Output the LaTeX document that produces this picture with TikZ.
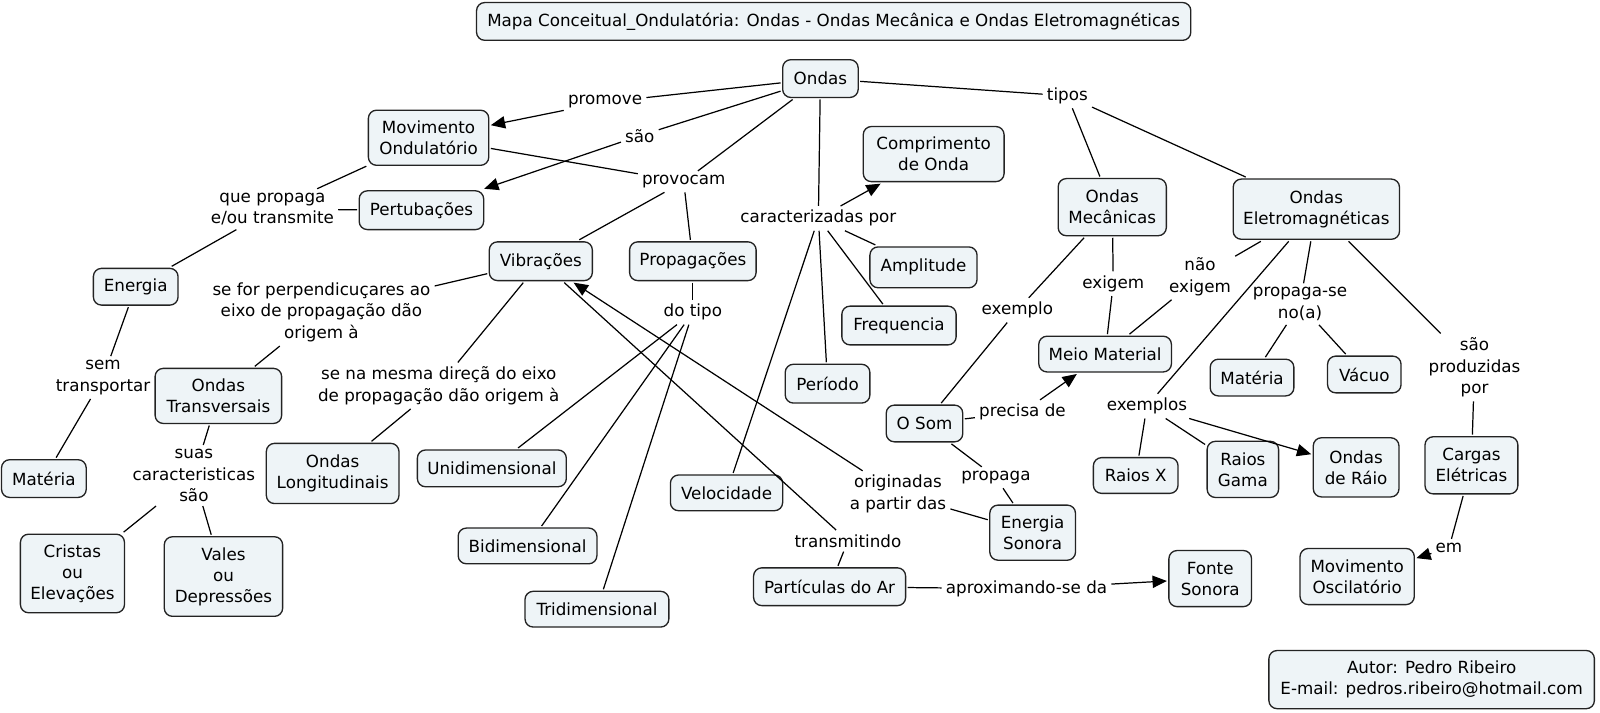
\documentclass[tikz,border=0pt]{standalone}
\usepackage{fontspec}
\setmainfont{DejaVu Sans}
\usetikzlibrary{arrows.meta}
\definecolor{boxfill}{RGB}{238,244,247}
\definecolor{boxdraw}{RGB}{35,35,35}
\newcommand{\cbox}[6]{\node[concept, minimum width=#4pt, minimum height=#5pt] (#1) at (#2,#3) {#6};}
\begin{document}
\begin{tikzpicture}[x=1pt,y=-1pt,
 concept/.style={draw=boxdraw, fill=boxfill, rounded corners=8pt, line width=1.3pt, align=center, inner sep=2pt, outer sep=2pt, font=\fontsize{16.4}{20.5}\selectfont},
 lbl/.style={align=center, inner sep=4pt, font=\fontsize{16.4}{21}\selectfont},
 ln/.style={line width=1.2pt, draw=black},
 arr/.style={ln, -{Triangle[length=14pt,width=12pt]}}]
\useasboundingbox (0,0) rectangle (1568,698);
% concepts
\cbox{title}{817}{21}{700}{37}{Mapa Conceitual\_Ondulatória: Ondas - Ondas Mecânica e Ondas Eletromagnéticas}
\cbox{ondas}{804}{77}{74}{37}{Ondas}
\cbox{movond}{420}{135}{118}{54}{Movimento\\Ondulatório}
\cbox{pert}{413}{206}{122}{38}{Pertubações}
\cbox{energia}{133}{281}{83}{36}{Energia}
\cbox{materia1}{43}{469}{83}{37}{Matéria}
\cbox{ondtrans}{214}{388}{124}{54}{Ondas\\Transversais}
\cbox{cristas}{71}{562}{102}{77}{Cristas\\ou\\Elevações}
\cbox{vales}{219}{565}{116}{78}{Vales\\ou\\Depressões}
\cbox{vibr}{530}{256}{101}{38}{Vibrações}
\cbox{propag}{679}{256}{124}{38}{Propagações}
\cbox{ondlong}{326}{464}{130}{59}{Ondas\\Longitudinais}
\cbox{unidim}{482}{459}{146}{36}{Unidimensional}
\cbox{bidim}{517}{535}{136}{35}{Bidimensional}
\cbox{tridim}{585}{597}{141}{35}{Tridimensional}
\cbox{compr}{915}{151}{138}{54}{Comprimento\\de Onda}
\cbox{ampl}{905}{262}{105}{40}{Amplitude}
\cbox{freq}{881}{319}{112}{38}{Frequencia}
\cbox{periodo}{811}{376}{83}{38}{Período}
\cbox{veloc}{712}{483}{110}{35}{Velocidade}
\cbox{partic}{813}{575}{149}{37}{Partículas do Ar}
\cbox{fonte}{1186}{567}{81}{55}{Fonte\\Sonora}
\cbox{osom}{906}{415}{75}{36}{O Som}
\cbox{enson}{1012}{522}{84}{54}{Energia\\Sonora}
\cbox{meio}{1083}{347}{130}{35}{Meio Material}
\cbox{ondmec}{1090}{203}{106}{56}{Ondas\\Mecânicas}
\cbox{ondelet}{1290}{205}{163}{59}{Ondas\\Eletromagnéticas}
\cbox{materia2}{1227}{370}{82}{36}{Matéria}
\cbox{vacuo}{1337}{367}{72}{36}{Vácuo}
\cbox{raiosx}{1113}{466}{83}{35}{Raios X}
\cbox{raiosg}{1218}{460}{70}{55}{Raios\\Gama}
\cbox{ondradio}{1329}{458}{84}{58}{Ondas\\de Ráio}
\cbox{cargas}{1442}{456}{91}{56}{Cargas\\Elétricas}
\cbox{movosc}{1330}{565}{112}{55}{Movimento\\Oscilatório}
\cbox{autor}{1403}{666}{319}{57}{Autor: Pedro Ribeiro\\E-mail: pedros.ribeiro@hotmail.com}
% linking phrases
\node[lbl] (promove) at (593,100) {promove};
\node[lbl] (sao) at (627,133) {são};
\node[lbl] (provocam) at (670,178) {provocam};
\node[lbl] (quepropaga) at (267,205) {que propaga\\e/ou transmite};
\node[lbl] (semtransp) at (101,370) {sem\\transportar};
\node[lbl] (perpend) at (315,306) {se for perpendicuçares ao\\eixo de propagação dão\\origem à};
\node[lbl] (suascar) at (190,466) {suas\\caracteristicas\\são};
\node[lbl] (namesma) at (430,378) {se na mesma direçã do eixo\\de propagação dão origem à};
\node[lbl] (dotipo) at (679,306) {do tipo};
\node[lbl] (caract) at (802,214) {caracterizadas por};
\node[lbl] (transm) at (831,530) {transmitindo};
\node[lbl] (origin) at (880,484) {originadas\\a partir das};
\node[lbl] (aprox) at (1006,577) {aproximando-se da};
\node[lbl] (precisa) at (1002,404) {precisa de};
\node[lbl] (propaga) at (976,468) {propaga};
\node[lbl] (exemplo) at (997,304) {exemplo};
\node[lbl] (exigem) at (1091,278) {exigem};
\node[lbl] (naoexig) at (1176,271) {não\\exigem};
\node[lbl] (tipos) at (1046,94) {tipos};
\node[lbl] (propse) at (1274,298) {propaga-se\\no(a)};
\node[lbl] (exemplos) at (1124,398) {exemplos};
\node[lbl] (saoprod) at (1445,360) {são\\produzidas\\por};
\node[lbl] (em) at (1420,537) {em};
% connectors
\draw[ln] (ondas) -- (promove); \draw[arr] (promove) -- (movond);
\draw[ln] (ondas) -- (sao); \draw[arr] (sao) -- (pert);
\draw[ln] (ondas) -- (provocam); \draw[ln] (movond) -- (provocam);
\draw[ln] (provocam) -- (vibr); \draw[ln] (provocam) -- (propag);
\draw[ln] (movond) -- (quepropaga); \draw[ln] (pert) -- (quepropaga); \draw[ln] (quepropaga) -- (energia);
\draw[ln] (energia) -- (semtransp); \draw[ln] (semtransp) -- (materia1);
\draw[ln] (vibr) -- (perpend); \draw[ln] (perpend) -- (ondtrans);
\draw[ln] (vibr) -- (namesma); \draw[ln] (namesma) -- (ondlong);
\draw[ln] (ondtrans) -- (suascar); \draw[ln] (suascar) -- (cristas); \draw[ln] (suascar) -- (vales);
\draw[ln] (propag) -- (dotipo); \draw[ln] (dotipo) -- (unidim); \draw[ln] (dotipo) -- (bidim); \draw[ln] (dotipo) -- (tridim);
\draw[ln] (ondas) -- (caract); \draw[arr] (caract) -- (compr); \draw[ln] (caract) -- (ampl);
\draw[ln] (caract) -- (freq); \draw[ln] (caract) -- (periodo); \draw[ln] (caract) -- (veloc);
\draw[ln] (vibr) -- (transm); \draw[ln] (transm) -- (partic);
\draw[ln] (partic) -- (aprox); \draw[arr] (aprox) -- (fonte);
\draw[ln] (enson) -- (origin); \draw[arr] (origin) -- (vibr);
\draw[ln] (osom) -- (propaga); \draw[ln] (propaga) -- (enson);
\draw[ln] (osom) -- (precisa); \draw[arr] (precisa) -- (meio);
\draw[ln] (ondmec) -- (exemplo); \draw[ln] (exemplo) -- (osom);
\draw[ln] (ondmec) -- (exigem); \draw[ln] (exigem) -- (meio);
\draw[ln] (ondelet) -- (naoexig); \draw[ln] (naoexig) -- (meio);
\draw[ln] (ondas) -- (tipos); \draw[ln] (tipos) -- (ondmec); \draw[ln] (tipos) -- (ondelet);
\draw[ln] (ondelet) -- (propse); \draw[ln] (propse) -- (materia2); \draw[ln] (propse) -- (vacuo);
\draw[ln] (ondelet) -- (exemplos); \draw[ln] (exemplos) -- (raiosx); \draw[ln] (exemplos) -- (raiosg); \draw[arr] (exemplos) -- (ondradio);
\draw[ln] (ondelet) -- (saoprod); \draw[ln] (saoprod) -- (cargas);
\draw[ln] (cargas) -- (em); \draw[arr] (em) -- (movosc);
\end{tikzpicture}
\end{document}
